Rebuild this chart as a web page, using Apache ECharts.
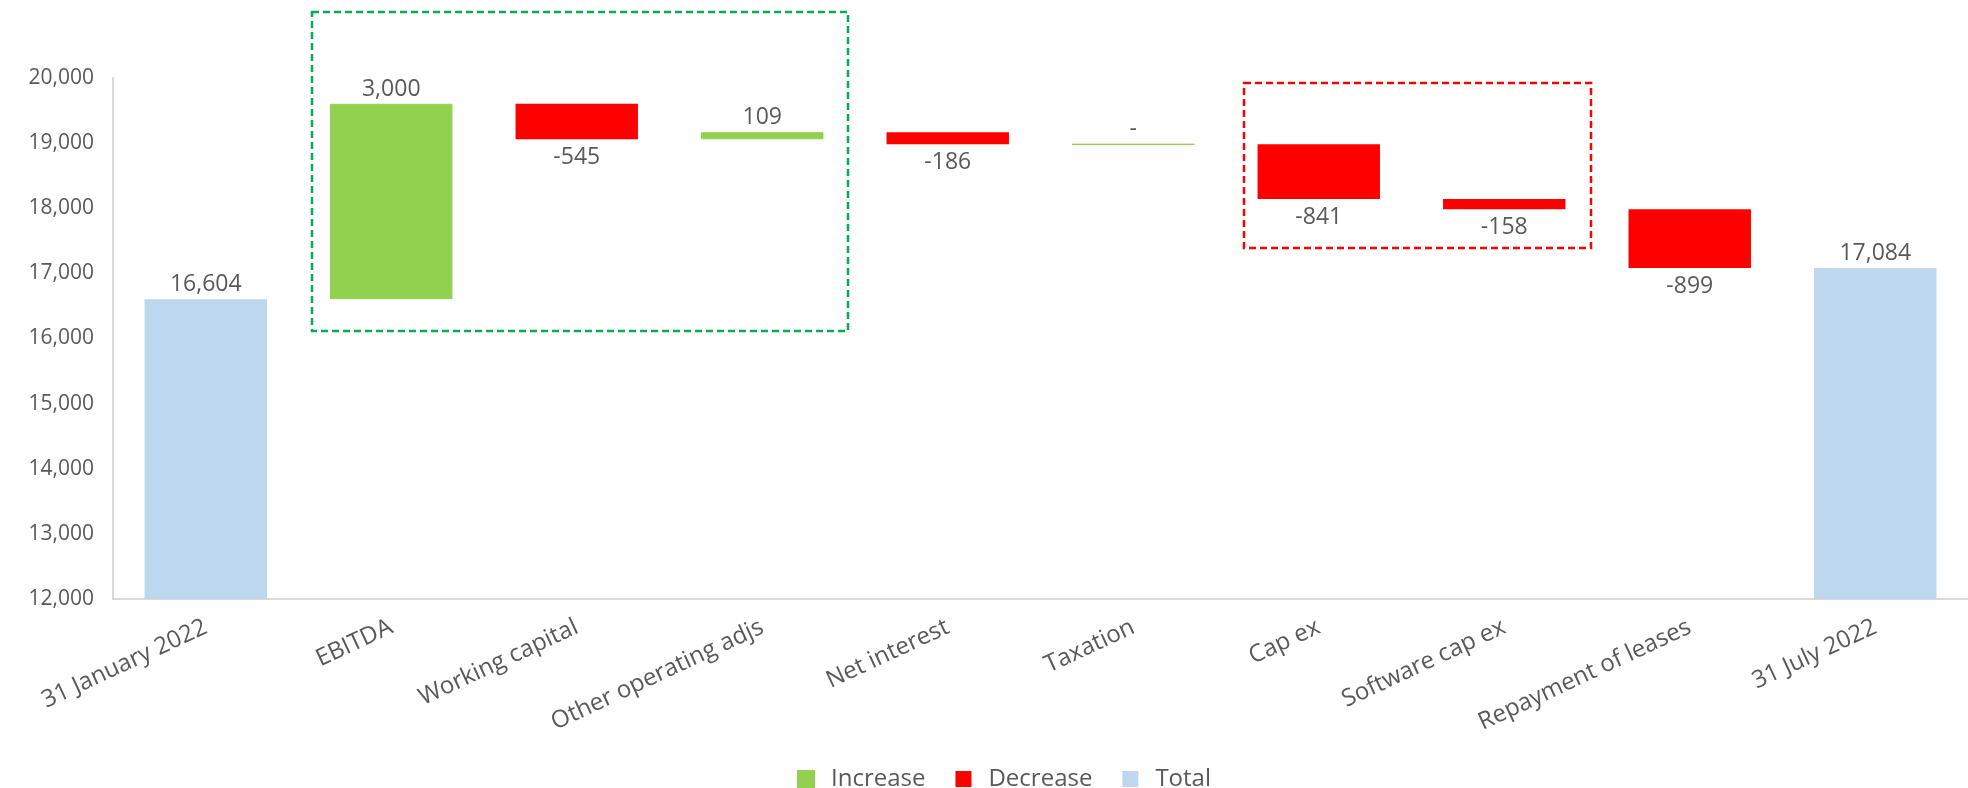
<!DOCTYPE html>
<html>
<head>
<meta charset="utf-8">
<script src="https://cdn.jsdelivr.net/npm/echarts@6/dist/echarts.min.js"></script>
<style>html,body{margin:0;padding:0;background:#fff;}#c{width:1968px;height:788px;}</style>
</head>
<body>
<div id="c"></div>
<script>
// ---- data ----
var categories = ['31 January 2022','EBITDA','Working capital','Other operating adjs','Net interest','Taxation','Cap ex','Software cap ex','Repayment of leases','31 July 2022'];
var openingTotal = 16604;
var changes = [3000, -545, 109, -186, 0, -841, -158, -899];
var closingTotal = 17084;
var yTicks = [12000, 13000, 14000, 15000, 16000, 17000, 18000, 19000, 20000];

// ---- build waterfall stacks from data ----
var base = [], inc = [], dec = [], tot = [];
var running = openingTotal;
tot.push(openingTotal); base.push('-'); inc.push('-'); dec.push('-');
changes.forEach(function (c) {
  var next = running + c;
  if (c >= 0) { base.push(running); inc.push(c); dec.push('-'); }
  else { base.push(next); inc.push('-'); dec.push(-c); }
  tot.push('-');
  running = next;
});
tot.push(closingTotal); base.push('-'); inc.push('-'); dec.push('-');

function fmt(v) { return Number(v).toLocaleString('en-US'); }

var FONT = 'Open Sans';
var GREY = '#595959';
var chart = echarts.init(document.getElementById('c'));
chart.setOption({
  animation: false,
  textStyle: { fontFamily: FONT },
  grid: { left: 113, right: -11, top: 78, bottom: 189, containLabel: false },
  legend: {
    data: ['Increase', 'Decrease', 'Total'],
    left: 792, top: 762,
    itemWidth: 16, itemHeight: 16, itemGap: 30,
    icon: 'rect',
    textStyle: { fontSize: 24, color: GREY, fontFamily: FONT, padding: [0, 0, 0, 12] }
  },
  xAxis: {
    type: 'category',
    data: categories,
    axisLine: { show: true, lineStyle: { color: '#d9d9d9', width: 2 } },
    axisTick: { show: false },
    axisLabel: { rotate: 25, fontSize: 24, color: GREY, fontFamily: FONT, margin: 27, interval: 0 }
  },
  yAxis: {
    type: 'value',
    min: yTicks[0], max: yTicks[yTicks.length - 1], interval: 1000,
    axisLine: { show: true, lineStyle: { color: '#d9d9d9', width: 2 } },
    axisTick: { show: false },
    splitLine: { show: false },
    axisLabel: { fontSize: 21, color: GREY, fontFamily: FONT, margin: 19, formatter: function (v) { return fmt(v); } }
  },
  series: [
    {
      name: 'base', type: 'bar', stack: 'w', data: base, barCategoryGap: '34%',
      itemStyle: { color: 'transparent' }, emphasis: { disabled: true }, silent: true
    },
    {
      name: 'Increase', type: 'bar', stack: 'w', data: inc,
      itemStyle: { color: '#92D050', borderColor: '#92D050', borderWidth: 1 },
      label: { show: true, position: 'top', fontSize: 23, color: GREY, fontFamily: FONT, distance: 3,
        formatter: function (p) { return p.value === 0 ? '-' : fmt(p.value); } }
    },
    {
      name: 'Decrease', type: 'bar', stack: 'w', data: dec,
      itemStyle: { color: '#FF0000' },
      label: { show: true, position: 'bottom', fontSize: 23, color: GREY, fontFamily: FONT, distance: 7,
        formatter: function (p) { return '-' + fmt(p.value); } }
    },
    {
      name: 'Total', type: 'bar', stack: 'w', data: tot,
      itemStyle: { color: '#BDD7EE' },
      label: { show: true, position: 'top', fontSize: 23, color: GREY, fontFamily: FONT, distance: 3,
        formatter: function (p) { return fmt(p.value); } }
    }
  ],
  graphic: [
    { type: 'rect', shape: { x: 312, y: 12, width: 536, height: 319 }, style: { fill: 'none', stroke: '#00B050', lineWidth: 2.5, lineDash: [7, 4] }, z: 10 },
    { type: 'rect', shape: { x: 1244, y: 83, width: 347, height: 165 }, style: { fill: 'none', stroke: '#FF0000', lineWidth: 2.5, lineDash: [7, 4] }, z: 10 }
  ]
});
</script>
</body>
</html>
